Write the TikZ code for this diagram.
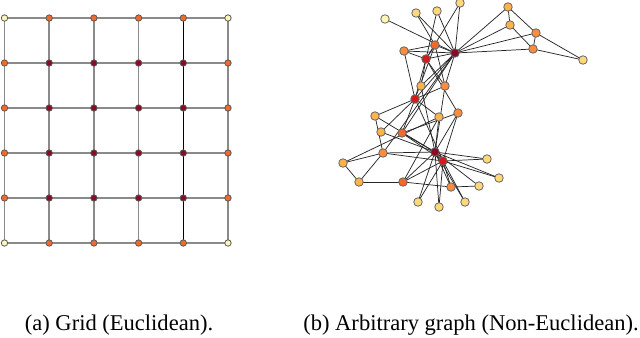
\documentclass[tikz,border=0pt]{standalone}
\usepackage{fontspec}
\setmainfont{Liberation Serif}
\definecolor{n1}{HTML}{FFF6B8}
\definecolor{n2}{HTML}{FED87A}
\definecolor{n3}{HTML}{FEB24C}
\definecolor{n4}{HTML}{FD8D3C}
\definecolor{n5}{HTML}{F26A2B}
\definecolor{n6}{HTML}{D7191C}
\definecolor{n7}{HTML}{8B0A26}
\definecolor{gridgray}{HTML}{8A8A8A}
\begin{document}
\begin{tikzpicture}[x=0.75pt,y=-0.75pt,
  gnode/.style={circle,draw=black!65,line width=0.6pt,minimum size=4.8pt,inner sep=0pt},
  knode/.style={circle,draw=black!60,line width=0.6pt,minimum size=6.4pt,inner sep=0pt},
  gline/.style={draw=gridgray,line width=1.1pt},
  kline/.style={draw=black!85,line width=0.55pt},
  captext/.style={font=\fontsize{16.9}{19}\selectfont,anchor=base}]
\useasboundingbox (0,0) rectangle (640,337);
% ---------- grid ----------
\foreach \i/\x in {0/4.5,1/49.2,2/93.9,3/138.6,4/183.3,5/228} {
  \foreach \j/\y in {0/18,1/63,2/108,3/153,4/198,5/243} {
    \coordinate (p-\i-\j) at (\x,\y);
  }
}
\foreach \j in {0,...,5} {
  \draw[gline] (p-0-\j) -- (p-5-\j);
}
\foreach \i in {0,1,2,3,5} {
  \draw[gline] (p-\i-0) -- (p-\i-5);
}
\draw[line width=1.1pt,black] (p-4-0) -- (p-4-5);
\foreach \i in {0,...,5} {
  \foreach \j in {0,...,5} {
    \pgfmathtruncatemacro{\border}{(\i==0)+(\i==5)+(\j==0)+(\j==5)}
    \ifcase\border
      \node[gnode,fill=n7] (g-\i-\j) at (p-\i-\j) {};
    \or
      \node[gnode,fill=n5] (g-\i-\j) at (p-\i-\j) {};
    \else
      \node[gnode,fill=n1] (g-\i-\j) at (p-\i-\j) {};
    \fi
  }
}
% ---------- graph ----------
\foreach \n/\x/\y in {1/455/53,2/426/59,3/415/99,4/435/45,5/508/7,6/533/49,7/536/33,8/404/51,
  9/402/133,10/381/132,11/510/25,12/385/19,13/416/13,14/445/86,15/418/202,16/439/207,
  17/583/60,18/437/11,19/465/202,20/421/86,21/487/159,22/460/3,23/499/178,24/403/182,
  25/343/163,26/359/182,27/479/186,28/439/117,29/375/116,30/451/187,31/458/113,32/383/153,
  33/443/161,34/435/152} {
  \coordinate (q\n) at (\x,\y);
}
\foreach \a/\b in {1/2,1/3,1/4,1/5,1/6,1/7,1/8,1/9,1/11,1/12,1/13,1/14,1/18,1/20,1/22,1/32,
  2/3,2/4,2/8,2/14,2/18,2/20,2/22,2/31,
  3/4,3/8,3/9,3/10,3/14,3/28,3/29,3/33,
  4/8,4/13,4/14,5/7,5/11,6/7,6/11,6/17,7/17,
  9/31,9/33,9/34,10/34,14/34,15/33,15/34,16/33,16/34,19/33,19/34,20/34,21/33,21/34,23/33,23/34,
  24/26,24/28,24/30,24/33,24/34,25/26,25/28,25/32,26/32,27/30,27/34,28/34,29/32,29/34,
  30/33,30/34,31/33,31/34,32/33,32/34,33/34} {
  \draw[kline] (q\a) -- (q\b);
}
\foreach \n/\c in {1/n7,2/n6,3/n6,4/n5,5/n3,6/n4,7/n4,8/n4,9/n5,10/n3,11/n3,12/n1,13/n2,14/n4,
  15/n2,16/n2,17/n2,18/n2,19/n2,20/n3,21/n2,22/n2,23/n2,24/n5,25/n3,26/n3,27/n2,28/n3,29/n3,
  30/n4,31/n4,32/n4,33/n6,34/n7} {
  \node[knode,fill=\c] (k\n) at (q\n) {};
}
% ---------- captions ----------
\node[captext] (capa) at (119,330) {(a) Grid (Euclidean).};
\node[captext] (capb) at (471,330) {(b) Arbitrary graph (Non-Euclidean).};
\end{tikzpicture}
\end{document}
